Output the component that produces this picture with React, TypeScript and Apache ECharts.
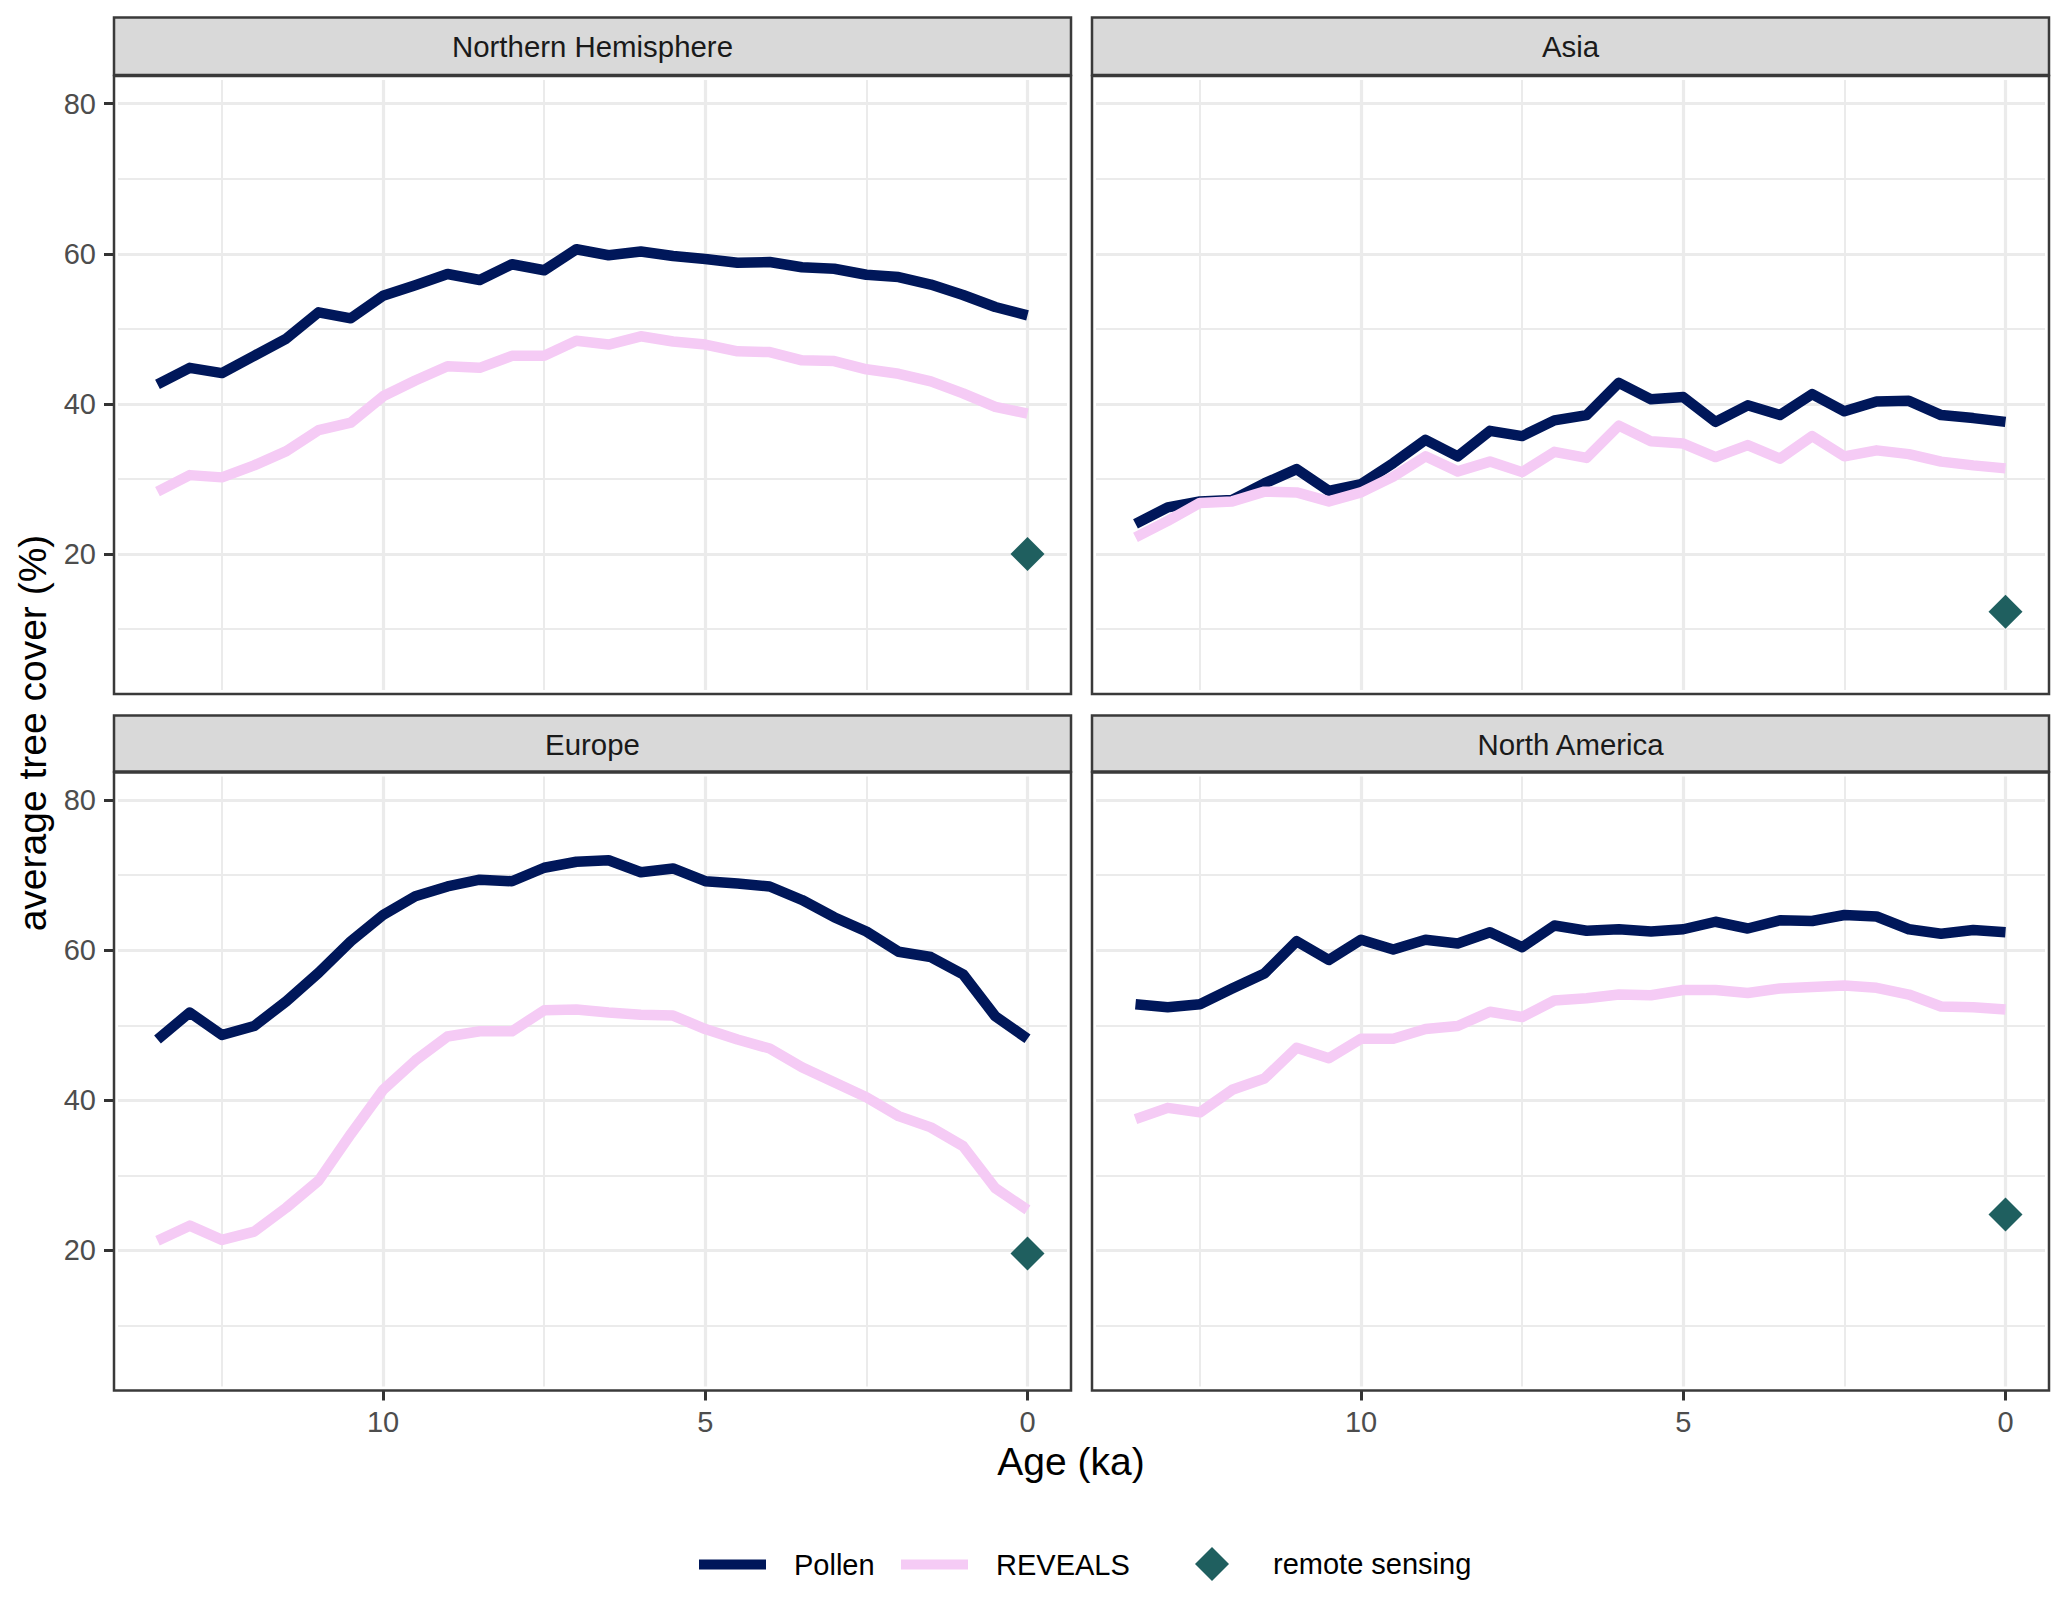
import * as echarts from 'echarts';
import { useEffect, useRef } from 'react';

const ages = [13.5, 13, 12.5, 12, 11.5, 11, 10.5, 10, 9.5, 9, 8.5, 8, 7.5, 7, 6.5, 6, 5.5, 5, 4.5, 4, 3.5, 3, 2.5, 2, 1.5, 1, 0.5, 0];

const panelNames = ['Northern Hemisphere', 'Asia', 'Europe', 'North America'];

const nhPollen = [42.6, 44.8, 44.1, 46.4, 48.7, 52.2, 51.4, 54.4, 55.8, 57.3, 56.5, 58.6, 57.8, 60.6, 59.8, 60.3, 59.7, 59.3, 58.8, 58.9, 58.2, 58.0, 57.2, 56.9, 55.9, 54.5, 52.9, 51.8];
const nhReveals = [28.3, 30.5, 30.2, 31.8, 33.7, 36.5, 37.5, 41, 43.1, 45, 44.8, 46.4, 46.4, 48.4, 47.9, 49, 48.3, 47.9, 47, 46.9, 45.8, 45.7, 44.6, 44, 43, 41.4, 39.6, 38.7];
const asiaPollen = [24, 26.2, 27, 27.2, 29.4, 31.3, 28.4, 29.3, 32.1, 35.2, 33, 36.4, 35.7, 37.8, 38.5, 42.8, 40.6, 40.9, 37.6, 39.8, 38.5, 41.3, 39, 40.3, 40.4, 38.5, 38.1, 37.6];
const asiaReveals = [22.2, 24.4, 26.8, 27, 28.3, 28.2, 27, 28.2, 30.3, 33, 31, 32.3, 30.9, 33.6, 32.8, 37.1, 35, 34.7, 32.9, 34.5, 32.7, 35.7, 33, 33.8, 33.3, 32.3, 31.8, 31.4];
const europePollen = [48.1, 51.7, 48.7, 49.9, 53.2, 57, 61.2, 64.7, 67.2, 68.5, 69.4, 69.2, 71, 71.8, 72, 70.4, 70.9, 69.2, 68.9, 68.5, 66.7, 64.4, 62.5, 59.8, 59.1, 56.8, 51.2, 48.2];
const europeReveals = [21.3, 23.3, 21.4, 22.5, 25.7, 29.3, 35.5, 41.4, 45.3, 48.5, 49.2, 49.2, 52, 52.1, 51.7, 51.4, 51.3, 49.5, 48.1, 46.9, 44.4, 42.4, 40.4, 37.9, 36.4, 33.9, 28.3, 25.4];
const naPollen = [52.8, 52.4, 52.8, 54.9, 56.9, 61.2, 58.7, 61.4, 60.1, 61.4, 60.9, 62.4, 60.4, 63.3, 62.6, 62.8, 62.5, 62.8, 63.8, 62.9, 64, 63.9, 64.7, 64.5, 62.8, 62.2, 62.7, 62.4];
const naReveals = [37.5, 39, 38.4, 41.4, 42.9, 47, 45.6, 48.2, 48.2, 49.5, 49.9, 51.8, 51.1, 53.3, 53.6, 54.1, 54, 54.7, 54.7, 54.3, 54.9, 55.1, 55.3, 55, 54.1, 52.5, 52.4, 52.1];

const pollenByPanel = [nhPollen, asiaPollen, europePollen, naPollen];
const revealsByPanel = [nhReveals, asiaReveals, europeReveals, naReveals];
const remoteSensing = [20, 12.3, 19.6, 24.8];

const xMajor = [0, 5, 10];
const xMinor = [2.5, 7.5, 12.5];
const yMajor = [20, 40, 60, 80];
const yMinor = [10, 30, 50, 70];

const NAVY = '#00175a';
const PINK = '#f5cbf5';
const TEAL = '#1f5f5f';
const BORDER = '#3a3a3a';
const FONT = '"Liberation Sans", Arial, sans-serif';

// panel layout: left/top of plot area for each facet
const lefts = [114, 1092, 114, 1092];
const tops = [76, 76, 772.5, 772.5];
const stripTops = [17.5, 17.5, 715.5, 715.5];
const PANEL_W = 957;
const PANEL_H = 618;

export default function App() {
  const chartRef = useRef<HTMLDivElement>(null);

  useEffect(() => {
    if (!chartRef.current) return;
    const chart = echarts.init(chartRef.current, undefined, { renderer: 'svg' });

    const grid = panelNames.map((_, i) => ({
      left: lefts[i],
      top: tops[i],
      width: PANEL_W,
      height: PANEL_H,
    }));

    const xAxis = panelNames.map((_, i) => ({
      type: 'value' as const,
      gridIndex: i,
      inverse: true,
      position: 'bottom' as const,
      min: -0.675,
      max: 14.175,
      axisLine: { show: false, onZero: false },
      axisTick: {
        show: i >= 2,
        customValues: xMajor,
        length: 10,
        lineStyle: { color: '#333333', width: 3 },
      },
      axisLabel: {
        show: i >= 2,
        customValues: xMajor,
        margin: 17,
        fontSize: 29,
        fontFamily: FONT,
        color: '#4d4d4d',
      },
      splitLine: { show: true, lineStyle: { color: '#ebebeb', width: 3.2 } },
    }));

    const yAxis = panelNames.map((_, i) => ({
      type: 'value' as const,
      gridIndex: i,
      position: 'left' as const,
      min: 1.33,
      max: 83.69,
      axisLine: { show: false, onZero: false },
      axisTick: {
        show: i % 2 === 0,
        customValues: yMajor,
        length: 10,
        lineStyle: { color: '#333333', width: 3 },
      },
      axisLabel: {
        show: i % 2 === 0,
        customValues: yMajor,
        margin: 18,
        fontSize: 29,
        fontFamily: FONT,
        color: '#4d4d4d',
      },
      splitLine: { show: true, lineStyle: { color: '#ebebeb', width: 3.2 } },
    }));

    const series: any[] = [];
    panelNames.forEach((_, i) => {
      series.push({
        name: 'Pollen',
        type: 'line',
        xAxisIndex: i,
        yAxisIndex: i,
        data: ages.map((a, k) => [a, pollenByPanel[i][k]]),
        showSymbol: false,
        symbol: 'none',
        z: 3,
        itemStyle: { color: NAVY },
        lineStyle: { color: NAVY, width: 10.5, cap: 'butt', join: 'round' },
        markLine: {
          silent: true,
          symbol: 'none',
          z: 1,
          label: { show: false },
          lineStyle: { color: '#ebebeb', width: 2, type: 'solid' },
          data: [...xMinor.map((v) => ({ xAxis: v })), ...yMinor.map((v) => ({ yAxis: v }))],
        },
      });
      series.push({
        name: 'REVEALS',
        type: 'line',
        xAxisIndex: i,
        yAxisIndex: i,
        data: ages.map((a, k) => [a, revealsByPanel[i][k]]),
        showSymbol: false,
        symbol: 'none',
        z: 4,
        itemStyle: { color: PINK },
        lineStyle: { color: PINK, width: 10.5, cap: 'butt', join: 'round' },
      });
      series.push({
        name: 'remote sensing',
        type: 'scatter',
        xAxisIndex: i,
        yAxisIndex: i,
        data: [[0, remoteSensing[i]]],
        symbol: 'diamond',
        symbolSize: 34,
        z: 5,
        itemStyle: { color: TEAL, opacity: 1 },
      });
    });

    const panelChrome = panelNames.flatMap((name, i) => [
      {
        type: 'rect',
        z: 20,
        shape: { x: lefts[i], y: stripTops[i], width: PANEL_W, height: tops[i] - stripTops[i] - 1 },
        style: { fill: '#d9d9d9', stroke: BORDER, lineWidth: 2.5 },
      },
      // white halo inside the frame, grid lines stop short of the border
      {
        type: 'rect',
        z: 20,
        shape: { x: lefts[i] + 2.5, y: tops[i] + 2.5, width: PANEL_W - 5, height: PANEL_H - 5 },
        style: { fill: 'none', stroke: '#ffffff', lineWidth: 3 },
      },
      {
        type: 'rect',
        z: 21,
        shape: { x: lefts[i], y: tops[i], width: PANEL_W, height: PANEL_H },
        style: { fill: 'none', stroke: BORDER, lineWidth: 2.5 },
      },
      {
        type: 'text',
        z: 22,
        x: lefts[i] + PANEL_W / 2,
        y: (stripTops[i] + tops[i]) / 2,
        style: {
          text: name,
          font: `29.4px ${FONT}`,
          fill: '#1a1a1a',
          align: 'center',
          verticalAlign: 'middle',
        },
      },
    ]);

    const legendBase = {
      orient: 'horizontal' as const,
      selectedMode: false,
      itemGap: 0,
      padding: 0,
    };
    const legendText = (pad: number) => ({
      fontSize: 29,
      fontFamily: FONT,
      color: '#000000',
      padding: [0, 0, 0, pad],
    });

    chart.setOption({
      animation: false,
      backgroundColor: '#ffffff',
      textStyle: { fontFamily: FONT },
      grid,
      xAxis,
      yAxis,
      series,
      legend: [
        {
          ...legendBase,
          data: [{ name: 'Pollen', icon: 'rect', itemStyle: { color: NAVY } }],
          left: 699,
          top: 1550,
          itemWidth: 67,
          itemHeight: 10,
          lineStyle: { width: 0 },
          textStyle: legendText(23),
        },
        {
          ...legendBase,
          data: [{ name: 'REVEALS', icon: 'rect', itemStyle: { color: PINK } }],
          left: 901,
          top: 1550,
          itemWidth: 67,
          itemHeight: 10,
          lineStyle: { width: 0 },
          textStyle: legendText(23),
        },
        {
          ...legendBase,
          data: [{ name: 'remote sensing', icon: 'diamond', itemStyle: { color: TEAL, opacity: 1 } }],
          left: 1195,
          top: 1547,
          itemWidth: 34,
          itemHeight: 34,
          textStyle: legendText(39),
        },
      ],
      graphic: [
        ...panelChrome,
        {
          type: 'text',
          x: 1071,
          y: 1461,
          style: { text: 'Age (ka)', font: `39px ${FONT}`, fill: '#000000', align: 'center', verticalAlign: 'middle' },
        },
        {
          type: 'text',
          x: 32,
          y: 733,
          rotation: Math.PI / 2,
          style: {
            text: 'average tree cover (%)',
            font: `39px ${FONT}`,
            fill: '#000000',
            align: 'center',
            verticalAlign: 'middle',
          },
        },
      ],
    });

    return () => {
      chart.dispose();
    };
  }, []);

  return (
    <div
      ref={chartRef}
      style={{ position: 'absolute', left: 0, top: 0, width: '2067px', height: '1599px' }}
    />
  );
}
